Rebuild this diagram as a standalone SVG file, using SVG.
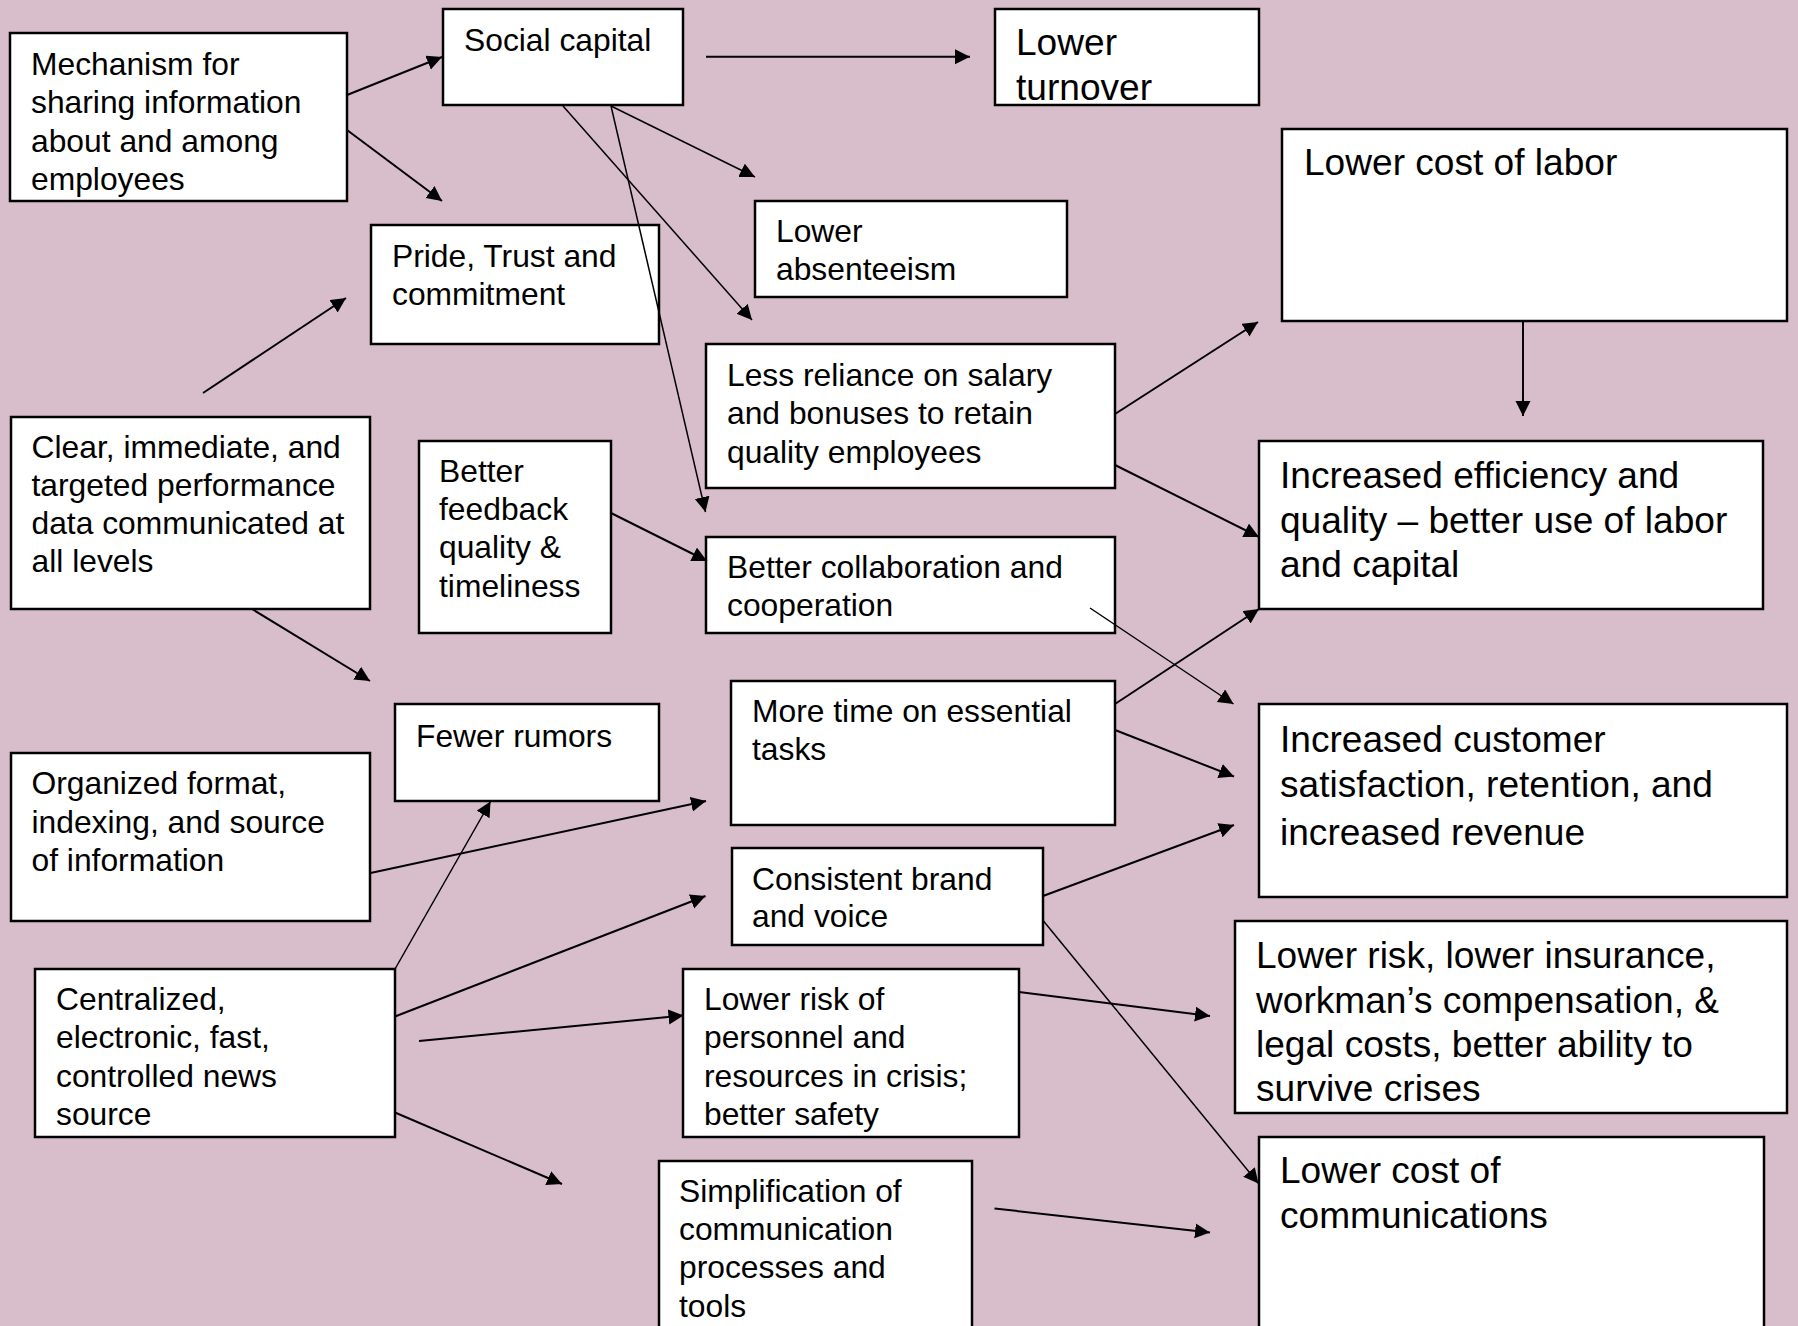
<svg xmlns="http://www.w3.org/2000/svg" width="1798" height="1326" viewBox="0 0 1798 1326">
<style>
.b{fill:#fff;stroke:#000;stroke-width:2.5}
.t{font-family:"Liberation Sans",Arial,sans-serif;font-size:31.8px;fill:#000}
.T{font-family:"Liberation Sans",Arial,sans-serif;font-size:37.1px;fill:#000}
.c{stroke:#000;stroke-width:2;fill:none;marker-end:url(#ah)}
.n{stroke:#000;stroke-width:1.5;fill:none;marker-end:url(#ah)}
</style>
<defs>
<marker id="ah" markerUnits="userSpaceOnUse" markerWidth="16" markerHeight="16" refX="15" refY="7.5" orient="auto">
<path d="M0,0 L15,7.5 L0,15 z" fill="#000"/>
</marker>
</defs>
<rect x="0" y="0" width="1798" height="1326" fill="#D8BDCB"/>

<g id="mechanism"><rect class="b" x="10" y="33" width="337" height="168"/>
<text class="t" x="31" y="75">Mechanism for</text><text class="t" x="31" y="113.4">sharing information</text><text class="t" x="31" y="151.8">about and among</text><text class="t" x="31" y="190.2">employees</text></g>

<g id="social"><rect class="b" x="443" y="9" width="240" height="96"/>
<text class="t" x="464" y="50.7">Social capital</text></g>

<g id="turnover"><rect class="b" x="995" y="9" width="264" height="96"/>
<text class="T" x="1016" y="55">Lower</text><text class="T" x="1016" y="100">turnover</text></g>

<g id="pride"><rect class="b" x="371" y="225" width="288" height="119"/>
<text class="t" x="392" y="266.7">Pride, Trust and</text><text class="t" x="392" y="304.5">commitment</text></g>

<g id="absenteeism"><rect class="b" x="755" y="201" width="312" height="96"/>
<text class="t" x="776" y="241.7">Lower</text><text class="t" x="776" y="280">absenteeism</text></g>

<g id="laborcost"><rect class="b" x="1282" y="129" width="505" height="192"/>
<text class="T" x="1304" y="175">Lower cost of labor</text></g>

<g id="reliance"><rect class="b" x="706" y="344" width="409" height="144"/>
<text class="t" x="727" y="385.5">Less reliance on salary</text><text class="t" x="727" y="424">and bonuses to retain</text><text class="t" x="727" y="462.5">quality employees</text></g>

<g id="clear"><rect class="b" x="11" y="417" width="359" height="192"/>
<text class="t" x="31.5" y="458">Clear, immediate, and</text><text class="t" x="31.5" y="496">targeted performance</text><text class="t" x="31.5" y="534">data communicated at</text><text class="t" x="31.5" y="572">all levels</text></g>

<g id="feedback"><rect class="b" x="419" y="441" width="192" height="192"/>
<text class="t" x="439" y="481.7">Better</text><text class="t" x="439" y="520">feedback</text><text class="t" x="439" y="558.3">quality &amp;</text><text class="t" x="439" y="596.7">timeliness</text></g>

<g id="collab"><rect class="b" x="706" y="537" width="409" height="96"/>
<text class="t" x="727" y="578">Better collaboration and</text><text class="t" x="727" y="616.3">cooperation</text></g>

<g id="efficiency"><rect class="b" x="1259" y="441" width="504" height="168"/>
<text class="T" x="1280" y="488.3">Increased efficiency and</text><text class="T" x="1280" y="532.5">quality – better use of labor</text><text class="T" x="1280" y="576.7">and capital</text></g>

<g id="rumors"><rect class="b" x="395" y="704" width="264" height="97"/>
<text class="t" x="416" y="746.7">Fewer rumors</text></g>

<g id="moretime"><rect class="b" x="731" y="681" width="384" height="144"/>
<text class="t" x="752" y="721.7">More time on essential</text><text class="t" x="752" y="760">tasks</text></g>

<g id="organized"><rect class="b" x="11" y="753" width="359" height="168"/>
<text class="t" x="31.5" y="794.3">Organized format,</text><text class="t" x="31.5" y="832.5">indexing, and source</text><text class="t" x="31.5" y="870.7">of information</text></g>

<g id="customer"><rect class="b" x="1259" y="704" width="528" height="193"/>
<text class="T" x="1280" y="751.7">Increased customer</text><text class="T" x="1280" y="796.7">satisfaction, retention, and</text><text class="T" x="1280" y="845">increased revenue</text></g>

<g id="brand"><rect class="b" x="732" y="848" width="311" height="97"/>
<text class="t" x="752" y="890">Consistent brand</text><text class="t" x="752" y="927">and voice</text></g>

<g id="centralized"><rect class="b" x="35" y="969" width="360" height="168"/>
<text class="t" x="56" y="1010">Centralized,</text><text class="t" x="56" y="1048.3">electronic, fast,</text><text class="t" x="56" y="1086.6">controlled news</text><text class="t" x="56" y="1125">source</text></g>

<g id="risksmall"><rect class="b" x="683" y="969" width="336" height="168"/>
<text class="t" x="704" y="1010">Lower risk of</text><text class="t" x="704" y="1048.3">personnel and</text><text class="t" x="704" y="1086.6">resources in crisis;</text><text class="t" x="704" y="1125">better safety</text></g>

<g id="riskbig"><rect class="b" x="1235" y="921" width="552" height="192"/>
<text class="T" x="1256" y="968.3">Lower risk, lower insurance,</text><text class="T" x="1256" y="1012.5">workman’s compensation, &amp;</text><text class="T" x="1256" y="1056.7">legal costs, better ability to</text><text class="T" x="1256" y="1100.9">survive crises</text></g>

<g id="simplification"><rect class="b" x="659" y="1161" width="313" height="190"/>
<text class="t" x="679" y="1201.7">Simplification of</text><text class="t" x="679" y="1240">communication</text><text class="t" x="679" y="1278.3">processes and</text><text class="t" x="679" y="1316.7">tools</text></g>

<g id="commcost"><rect class="b" x="1259" y="1137" width="505" height="214"/>
<text class="T" x="1280" y="1183.3">Lower cost of</text><text class="T" x="1280" y="1227.5">communications</text></g>

<g id="connectors">
<line class="c" x1="347" y1="95" x2="442" y2="57"/>
<line class="c" x1="347" y1="130" x2="442" y2="201"/>
<line class="c" x1="203" y1="393" x2="346" y2="298"/>
<line class="c" x1="706" y1="56.7" x2="970" y2="56.7"/>
<line class="n" x1="611" y1="106" x2="755" y2="177"/>
<line class="n" x1="563" y1="106" x2="752" y2="320"/>
<line class="n" x1="611" y1="106" x2="705.5" y2="512"/>
<line class="c" x1="1115" y1="414" x2="1258" y2="322"/>
<line class="c" x1="1523" y1="321" x2="1523" y2="416"/>
<line class="c" x1="1115" y1="465" x2="1259" y2="537"/>
<line class="c" x1="611" y1="513" x2="707" y2="561"/>
<line class="n" x1="1090" y1="608" x2="1233.5" y2="704"/>
<line class="c" x1="1115" y1="704" x2="1259" y2="609"/>
<line class="c" x1="1115" y1="730" x2="1234" y2="776.5"/>
<line class="c" x1="252" y1="609" x2="370" y2="681"/>
<line class="c" x1="370.5" y1="873" x2="706" y2="801"/>
<line class="n" x1="395" y1="969" x2="490.5" y2="801.5"/>
<line class="c" x1="395" y1="1016.5" x2="705.5" y2="896"/>
<line class="c" x1="419" y1="1041" x2="683.5" y2="1015.5"/>
<line class="c" x1="395" y1="1112.5" x2="562" y2="1184"/>
<line class="c" x1="1043" y1="896" x2="1234" y2="825"/>
<line class="n" x1="1043.5" y1="921" x2="1258.5" y2="1183.5"/>
<line class="c" x1="1019" y1="992" x2="1210" y2="1016"/>
<line class="c" x1="994.5" y1="1208.5" x2="1210" y2="1232.5"/>
</g>
</svg>
